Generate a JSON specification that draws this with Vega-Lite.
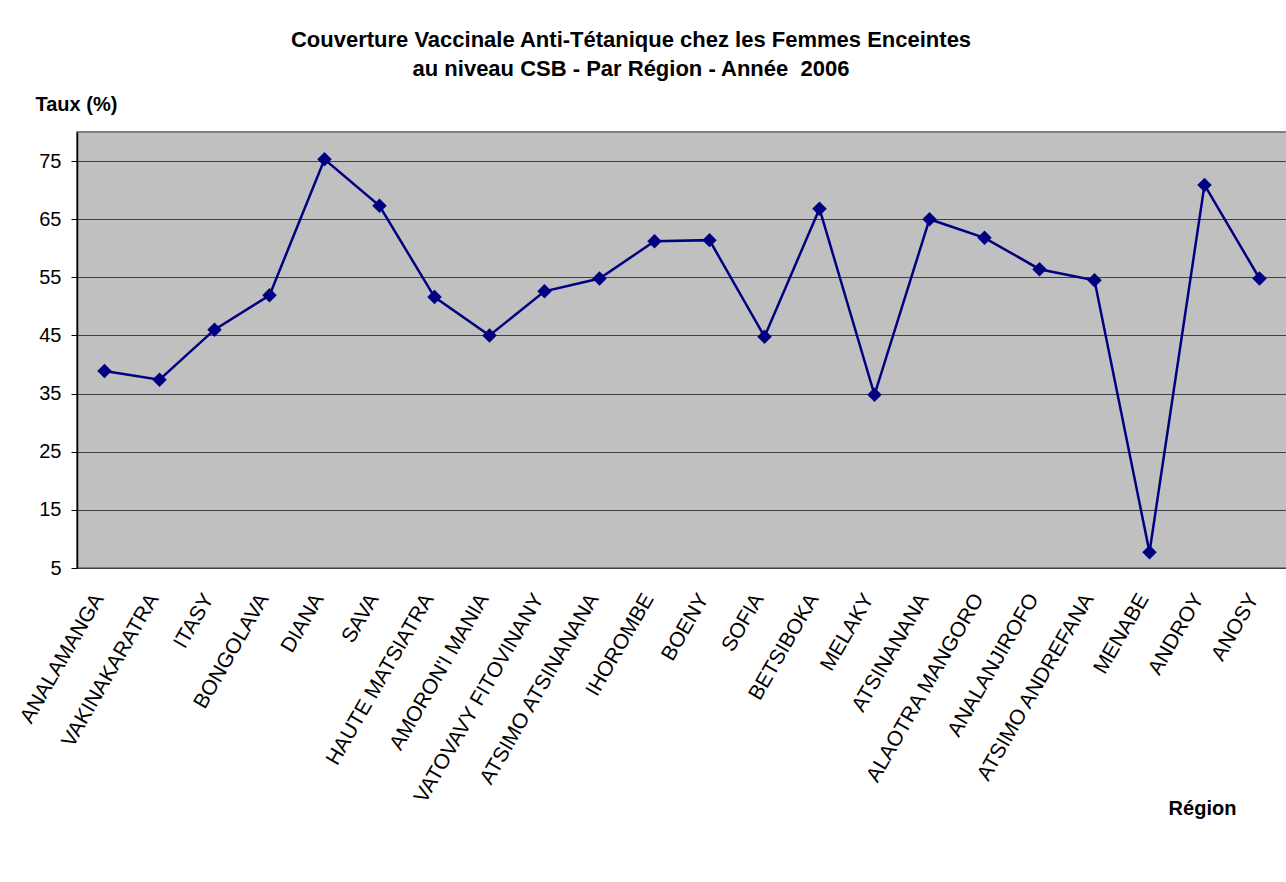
{
  "$schema": "https://vega.github.io/schema/vega-lite/v6.json",
  "width": 1210,
  "height": 436,
  "autosize": {"type": "none"},
  "padding": {"left": 77, "top": 132, "right": 0, "bottom": 314},
  "background": "white",
  "title": {
    "text": ["Couverture Vaccinale Anti-Tétanique chez les Femmes Enceintes", "au niveau CSB - Par Région - Année\u00a0 2006"],
    "font": "Liberation Sans",
    "fontSize": 22,
    "fontWeight": "bold",
    "color": "#000000",
    "anchor": "middle",
    "frame": "group",
    "dx": -51,
    "lineHeight": 29,
    "offset": 13
  },
  "config": {
    "font": "Liberation Sans",
    "view": {"fill": "#C0C0C0", "stroke": "#808080", "strokeWidth": 2}
  },
  "data": {
    "values": [
      {"region": "ANALAMANGA", "taux": 38.9},
      {"region": "VAKINAKARATRA", "taux": 37.4},
      {"region": "ITASY", "taux": 46.0},
      {"region": "BONGOLAVA", "taux": 51.9},
      {"region": "DIANA", "taux": 75.3},
      {"region": "SAVA", "taux": 67.3},
      {"region": "HAUTE MATSIATRA", "taux": 51.6},
      {"region": "AMORON'I MANIA", "taux": 45.0},
      {"region": "VATOVAVY FITOVINANY", "taux": 52.6},
      {"region": "ATSIMO ATSINANANA", "taux": 54.8},
      {"region": "IHOROMBE", "taux": 61.2},
      {"region": "BOENY", "taux": 61.4},
      {"region": "SOFIA", "taux": 44.8},
      {"region": "BETSIBOKA", "taux": 66.8},
      {"region": "MELAKY", "taux": 34.8},
      {"region": "ATSINANANA", "taux": 65.0},
      {"region": "ALAOTRA MANGORO", "taux": 61.8},
      {"region": "ANALANJIROFO", "taux": 56.4},
      {"region": "ATSIMO ANDREFANA", "taux": 54.5},
      {"region": "MENABE", "taux": 7.7},
      {"region": "ANDROY", "taux": 70.9},
      {"region": "ANOSY", "taux": 54.8}
    ]
  },
  "encoding": {
    "x": {
      "field": "region",
      "type": "nominal",
      "sort": null,
      "scale": {"type": "point", "padding": 0.5},
      "axis": {
        "title": "Région",
        "titleX": 1125,
        "titleY": 240,
        "titleAlign": "center",
        "titleBaseline": "middle",
        "titleFontSize": 20,
        "titleFontWeight": "bold",
        "titleColor": "#000000",
        "labelAngle": -60,
        "labelAlign": "right",
        "labelBaseline": "middle",
        "labelPadding": 27,
        "labelOffset": -6,
        "labelFontSize": 21,
        "labelColor": "#000000",
        "labelOverlap": false,
        "labelLimit": 400,
        "ticks": false,
        "tickSize": 0,
        "domain": false,
        "grid": false
      }
    },
    "y": {
      "field": "taux",
      "type": "quantitative",
      "scale": {"domain": [5, 80], "nice": false, "zero": false},
      "axis": {
        "values": [5, 15, 25, 35, 45, 55, 65, 75],
        "grid": true,
        "gridColor": "#404040",
        "gridWidth": 1,
        "domainColor": "#000000",
        "domainWidth": 1.5,
        "tickColor": "#000000",
        "tickSize": 6,
        "labelFontSize": 20,
        "labelPadding": 10,
        "labelColor": "#000000",
        "title": "Taux (%)",
        "titleAngle": 0,
        "titleX": -42,
        "titleY": -28,
        "titleAlign": "left",
        "titleBaseline": "middle",
        "titleFontSize": 20,
        "titleFontWeight": "bold",
        "titleColor": "#000000"
      }
    }
  },
  "layer": [
    {"mark": {"type": "line", "color": "#000080", "strokeWidth": 2.5}},
    {"mark": {"type": "point", "shape": "diamond", "filled": true, "size": 210, "color": "#000080", "opacity": 1}}
  ]
}
